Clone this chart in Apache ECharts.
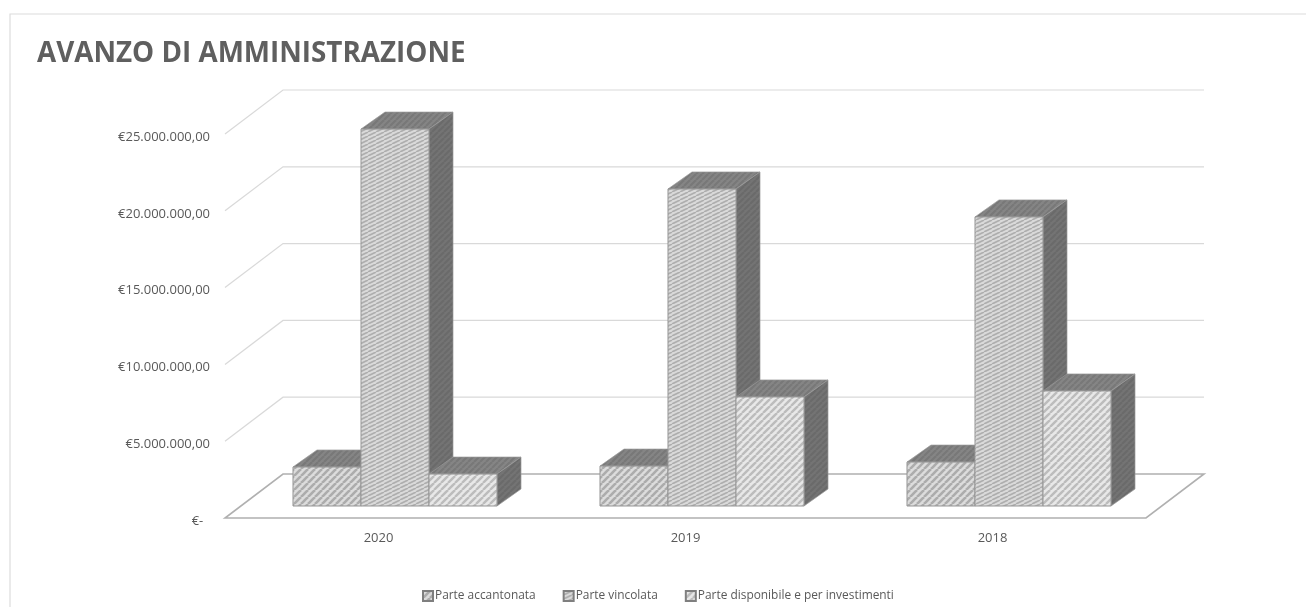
<!DOCTYPE html>
<html>
<head>
<meta charset="utf-8">
<style>html,body{margin:0;padding:0;background:#fff;overflow:hidden}#c{width:1306px;height:607px}</style>
<script src="https://cdn.jsdelivr.net/npm/echarts@6/dist/echarts.min.js"></script>
</head>
<body>
<div id="c"></div>
<script>
// ---- data ----
var titleText = 'AVANZO DI AMMINISTRAZIONE';
var categories = ['2020', '2019', '2018'];
var parteAccantonata = [2540000, 2600000, 2860000];
var parteVincolata = [24540000, 20640000, 18820000];
var parteDisponibile = [2080000, 7100000, 7490000];
var seriesNames = ['Parte accantonata', 'Parte vincolata', 'Parte disponibile e per investimenti'];
var tickValues = [0, 5000000, 10000000, 15000000, 20000000, 25000000];

// ---- hatch patterns ----
function hatch(w, h, bg, fg, lw) {
  var c = document.createElement('canvas');
  c.width = w; c.height = h;
  var g = c.getContext('2d');
  g.fillStyle = bg; g.fillRect(0, 0, w, h);
  g.strokeStyle = fg; g.lineWidth = lw;
  for (var i = -1; i <= 1; i++) {
    g.beginPath();
    g.moveTo(i * w, h); g.lineTo(i * w + w, 0);
    g.stroke();
  }
  return { image: c, repeat: 'repeat' };
}
var frontFills = [
  hatch(7, 7, '#dcdcdc', '#acacac', 2.6),
  hatch(8, 4, '#dadada', '#aeaeae', 1.7),
  hatch(7, 7, '#e8e8e8', '#bcbcbc', 2.4)
];
var topFill = hatch(6, 6, '#858585', '#787878', 2);
var sideFill = hatch(6, 6, '#747474', '#6a6a6a', 2);

// ---- 3D projection of the box inside the chart floor ----
var FLOOR_DX = 58, FLOOR_DY = 44;
var BAR_DX = 24, BAR_DY = 17;
var BASE_DX = 16.5, BASE_DY = 12;
var BAR_BAND = 0.2215;

function barSeries(name, values, idx) {
  return {
    type: 'custom',
    name: name,
    coordinateSystem: 'cartesian2d',
    clip: false,
    animation: false,
    z: 3,
    itemStyle: { color: frontFills[idx], borderColor: '#7f7f7f', borderWidth: 0.5 },
    data: values.map(function (v, i) { return [i, v]; }),
    encode: { x: 0, y: 1 },
    renderItem: function (params, api) {
      var band = api.size([1, 0])[0];
      var w = band * BAR_BAND;
      var top = api.coord([api.value(0), api.value(1)]);
      var bot = api.coord([api.value(0), 0]);
      var x0 = top[0] + BASE_DX + (idx - 1.5) * w;
      var x1 = x0 + w;
      var yt = top[1] - BASE_DY;
      var yb = bot[1] - BASE_DY;
      var edge = '#969696';
      return {
        type: 'group',
        children: [
          { type: 'polygon', shape: { points: [[x0, yt], [x1, yt], [x1 + BAR_DX, yt - BAR_DY], [x0 + BAR_DX, yt - BAR_DY]] },
            style: { fill: topFill, stroke: '#999999', lineWidth: 0.7 } },
          { type: 'polygon', shape: { points: [[x1, yt], [x1 + BAR_DX, yt - BAR_DY], [x1 + BAR_DX, yb - BAR_DY], [x1, yb]] },
            style: { fill: sideFill, stroke: '#999999', lineWidth: 0.7 } },
          { type: 'polygon', shape: { points: [[x0, yt], [x1, yt], [x1, yb], [x0, yb]] },
            style: { fill: frontFills[idx], stroke: edge, lineWidth: 1 } }
        ]
      };
    }
  };
}

var wallSeries = {
  type: 'custom',
  name: 'pareti',
  coordinateSystem: 'cartesian2d',
  clip: false,
  silent: true,
  animation: false,
  z: 1,
  data: tickValues.map(function (v) { return [0, v]; }),
  encode: { y: 1 },
  renderItem: function (params, api) {
    var cs = params.coordSys;
    var y = api.coord([0, api.value(1)])[1];
    var xl = cs.x, xr = cs.x + cs.width;
    if (api.value(1) === 0) {
      return { type: 'polygon',
        shape: { points: [[xl, y], [xr, y], [xr + FLOOR_DX, y - FLOOR_DY], [xl + FLOOR_DX, y - FLOOR_DY]] },
        style: { fill: 'none', stroke: '#b0b0b0', lineWidth: 1.6 } };
    }
    return { type: 'polyline',
      shape: { points: [[xl, y], [xl + FLOOR_DX, y - FLOOR_DY], [xr + FLOOR_DX, y - FLOOR_DY]] },
      style: { fill: 'none', stroke: '#d9d9d9', lineWidth: 1.2 } };
  }
};

var chart = echarts.init(document.getElementById('c'), null, { renderer: 'canvas' });
chart.setOption({
  animation: false,
  backgroundColor: '#ffffff',
  title: {
    text: titleText, left: 32, top: 35,
    textStyle: { fontFamily: 'Open Sans', fontWeight: 'bold', fontSize: 27.8, color: '#5f5f5f' }
  },
  grid: { left: 225, top: 134, width: 921, height: 384 },
  legend: {
    left: 417, top: 585, itemWidth: 10, itemHeight: 10, itemGap: 27,
    icon: 'rect',
    data: seriesNames,
    selectedMode: false,
    textStyle: { fontFamily: 'Open Sans', fontSize: 11.9, color: '#595959', padding: [0, 0, 0, -3] }
  },
  xAxis: {
    type: 'category', data: categories,
    axisLine: { show: false }, axisTick: { show: false }, splitLine: { show: false },
    axisLabel: { margin: 14, fontFamily: 'Open Sans', fontSize: 13, color: '#595959' }
  },
  yAxis: {
    type: 'value', min: 0, max: 25000000, interval: 5000000,
    axisLine: { show: false }, axisTick: { show: false }, splitLine: { show: false },
    axisLabel: {
      margin: 15,
      rich: { t: { fontFamily: 'Open Sans', fontSize: 13, color: '#595959', padding: [6, 0, 0, 0] } },
      formatter: function (v) {
        if (v === 0) return '{t|€-  }';
        return '{t|€' + String(v).replace(/\B(?=(\d{3})+$)/g, '.') + ',00}';
      }
    }
  },
  graphic: [{
    type: 'rect', silent: true, z: 0,
    shape: { x: 10, y: 14, width: 1400, height: 700 },
    style: { fill: 'none', stroke: '#dcdcdc', lineWidth: 1.2 }
  }],
  series: [
    wallSeries,
    barSeries(seriesNames[0], parteAccantonata, 0),
    barSeries(seriesNames[1], parteVincolata, 1),
    barSeries(seriesNames[2], parteDisponibile, 2)
  ]
});
</script>
</body>
</html>
